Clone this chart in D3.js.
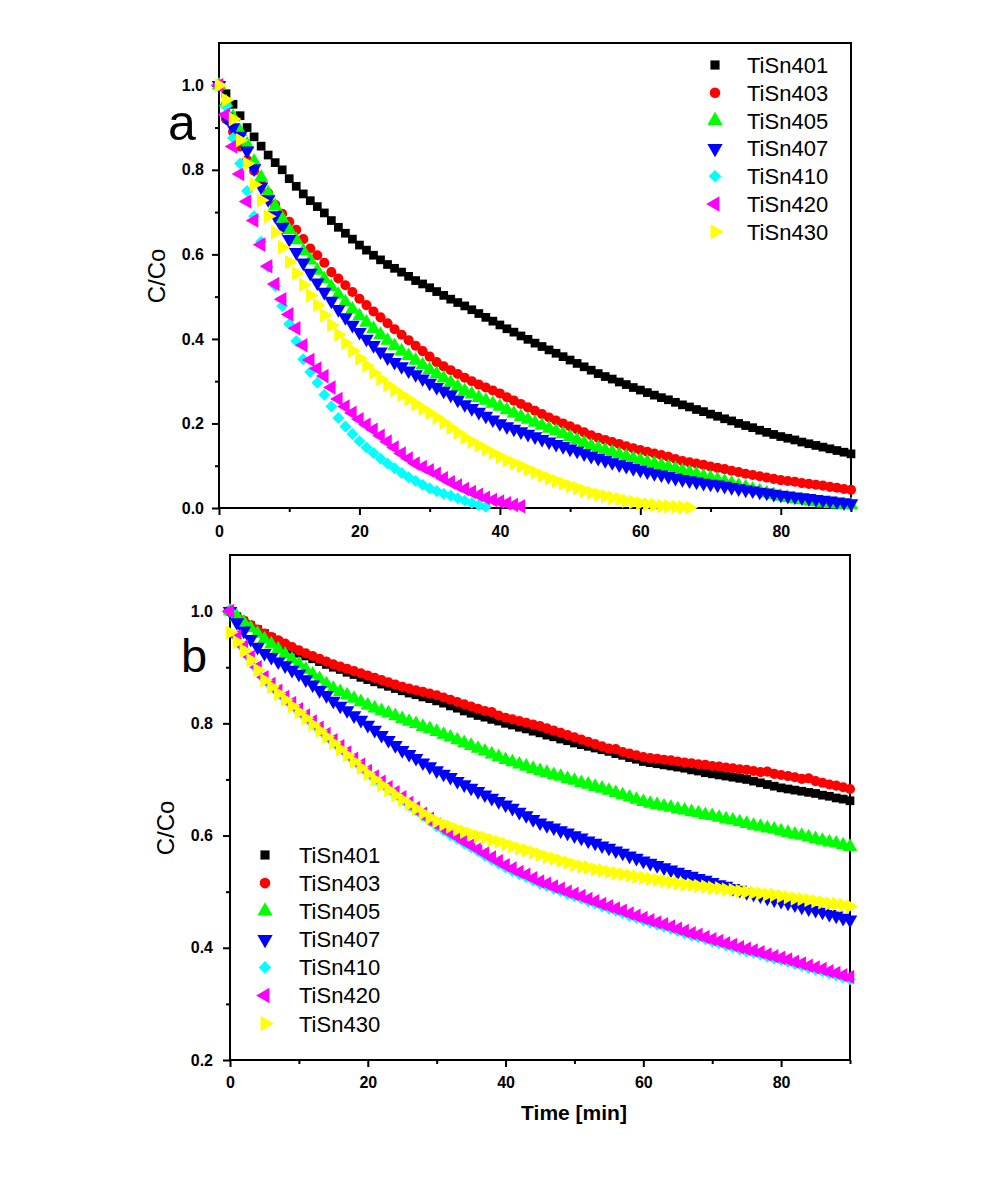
<!DOCTYPE html>
<html><head><meta charset="utf-8">
<script src="https://cdn.jsdelivr.net/npm/d3@7"></script>
<style>body{margin:0;background:#fff}svg{display:block}</style>
</head><body><svg id="c" width="1000" height="1200"></svg>
<script>
// ---------- data ----------
const seriesNames = ["TiSn401","TiSn403","TiSn405","TiSn407","TiSn410","TiSn420","TiSn430"];
const seriesColors = ["#000000","#ff0000","#00ff00","#0000ff","#00ffff","#ff00ff","#ffff00"];
const minutes = d3.range(0, 91); // sampling times, 1 min apart
const xTicks = [0,20,40,60,80];
const xMinorTicks = [10,30,50,70,90];
const yTicksA = [0,0.2,0.4,0.6,0.8,1.0];
const yMinorA = [0.1,0.3,0.5,0.7,0.9];
const yTicksB = [0.2,0.4,0.6,0.8,1.0];
const yMinorB = [0.3,0.5,0.7,0.9];

// panel a
const a401 = [1.0,0.98,0.955,0.928,0.9,0.878,0.856,0.835,0.817,0.8,0.779,0.761,0.743,0.727,0.713,0.698,0.68,0.664,0.65,0.636,0.622,0.61,0.598,0.587,0.576,0.567,0.558,0.548,0.538,0.53,0.521,0.512,0.503,0.494,0.486,0.478,0.469,0.46,0.451,0.442,0.433,0.424,0.416,0.407,0.399,0.39,0.382,0.374,0.366,0.358,0.35,0.342,0.334,0.326,0.318,0.311,0.305,0.298,0.292,0.285,0.279,0.273,0.267,0.261,0.256,0.25,0.244,0.239,0.233,0.228,0.222,0.217,0.211,0.206,0.2,0.195,0.19,0.184,0.179,0.174,0.169,0.165,0.161,0.156,0.152,0.148,0.144,0.14,0.136,0.132,0.128];
const a403 = [1.0,0.92,0.89,0.855,0.823,0.798,0.772,0.745,0.717,0.696,0.677,0.658,0.636,0.614,0.598,0.58,0.558,0.543,0.527,0.511,0.495,0.48,0.465,0.451,0.437,0.423,0.41,0.397,0.384,0.371,0.358,0.345,0.335,0.326,0.317,0.308,0.3,0.292,0.285,0.278,0.271,0.262,0.254,0.246,0.238,0.23,0.222,0.214,0.207,0.2,0.193,0.186,0.179,0.172,0.166,0.161,0.156,0.151,0.146,0.141,0.137,0.133,0.129,0.125,0.121,0.116,0.111,0.108,0.105,0.102,0.098,0.095,0.092,0.088,0.085,0.081,0.078,0.075,0.072,0.069,0.066,0.064,0.062,0.059,0.057,0.055,0.053,0.05,0.048,0.045,0.043];
const a405 = [1.0,0.96,0.925,0.89,0.86,0.82,0.782,0.745,0.714,0.685,0.658,0.634,0.608,0.586,0.562,0.542,0.523,0.505,0.487,0.47,0.454,0.439,0.424,0.41,0.396,0.383,0.371,0.36,0.349,0.338,0.327,0.317,0.307,0.297,0.287,0.277,0.269,0.261,0.254,0.247,0.24,0.232,0.224,0.216,0.209,0.202,0.195,0.188,0.182,0.175,0.168,0.161,0.154,0.147,0.142,0.137,0.132,0.127,0.122,0.117,0.113,0.109,0.105,0.101,0.097,0.093,0.088,0.084,0.08,0.075,0.071,0.067,0.062,0.058,0.053,0.049,0.044,0.04,0.035,0.031,0.027,0.024,0.021,0.019,0.016,0.014,0.012,0.01,0.009,0.008,0.007];
const a407 = [1.0,0.925,0.9,0.88,0.845,0.803,0.76,0.73,0.692,0.665,0.636,0.605,0.58,0.556,0.533,0.511,0.49,0.47,0.451,0.433,0.416,0.4,0.385,0.37,0.356,0.345,0.335,0.325,0.316,0.306,0.296,0.286,0.277,0.268,0.256,0.245,0.236,0.227,0.218,0.209,0.2,0.193,0.187,0.181,0.175,0.169,0.163,0.157,0.151,0.146,0.14,0.135,0.129,0.123,0.118,0.113,0.108,0.103,0.099,0.094,0.09,0.086,0.082,0.079,0.075,0.071,0.068,0.065,0.062,0.059,0.057,0.055,0.052,0.049,0.046,0.043,0.041,0.038,0.036,0.033,0.031,0.029,0.027,0.025,0.023,0.021,0.019,0.017,0.015,0.013,0.011];
const a410 = [1.0,0.95,0.875,0.815,0.75,0.69,0.63,0.57,0.525,0.478,0.435,0.395,0.352,0.322,0.296,0.268,0.24,0.213,0.193,0.175,0.158,0.143,0.13,0.117,0.105,0.094,0.083,0.073,0.064,0.055,0.047,0.04,0.034,0.029,0.023,0.017,0.012,0.007,0.003];
const a420 = [1.0,0.93,0.855,0.79,0.725,0.68,0.623,0.572,0.53,0.494,0.458,0.425,0.385,0.35,0.33,0.312,0.285,0.258,0.24,0.225,0.21,0.197,0.185,0.171,0.157,0.143,0.129,0.117,0.105,0.097,0.089,0.081,0.07,0.061,0.053,0.045,0.038,0.031,0.024,0.019,0.015,0.011,0.007,0.004];
const a430 = [1.0,0.965,0.92,0.87,0.815,0.765,0.728,0.69,0.652,0.617,0.582,0.555,0.528,0.503,0.48,0.456,0.433,0.41,0.39,0.372,0.354,0.337,0.32,0.305,0.291,0.279,0.268,0.257,0.246,0.235,0.225,0.214,0.202,0.19,0.178,0.166,0.157,0.148,0.139,0.13,0.121,0.113,0.106,0.099,0.091,0.084,0.077,0.07,0.064,0.058,0.052,0.047,0.041,0.036,0.032,0.028,0.024,0.021,0.017,0.014,0.011,0.009,0.007,0.005,0.004,0.003,0.002,0.001];

// panel b
const b401 = [1.0,0.99,0.982,0.974,0.967,0.96,0.953,0.946,0.939,0.932,0.925,0.92,0.915,0.91,0.905,0.9,0.896,0.891,0.887,0.882,0.878,0.874,0.87,0.866,0.862,0.858,0.854,0.851,0.847,0.844,0.84,0.836,0.831,0.827,0.822,0.818,0.814,0.811,0.807,0.804,0.8,0.797,0.793,0.79,0.786,0.783,0.779,0.776,0.772,0.769,0.765,0.762,0.759,0.756,0.753,0.75,0.746,0.743,0.739,0.736,0.732,0.73,0.728,0.726,0.724,0.722,0.72,0.717,0.715,0.712,0.71,0.708,0.706,0.704,0.702,0.7,0.697,0.694,0.691,0.688,0.685,0.683,0.681,0.679,0.677,0.675,0.672,0.67,0.667,0.665,0.662];
const b403 = [1.0,0.99,0.983,0.975,0.967,0.96,0.954,0.948,0.942,0.936,0.93,0.925,0.92,0.915,0.91,0.905,0.901,0.897,0.893,0.889,0.885,0.881,0.877,0.873,0.869,0.865,0.862,0.859,0.856,0.853,0.85,0.846,0.842,0.838,0.834,0.83,0.826,0.822,0.82,0.814,0.81,0.807,0.804,0.801,0.798,0.795,0.791,0.787,0.783,0.779,0.775,0.771,0.767,0.763,0.759,0.755,0.754,0.749,0.746,0.743,0.74,0.738,0.737,0.735,0.734,0.732,0.73,0.729,0.727,0.726,0.724,0.723,0.721,0.72,0.718,0.717,0.715,0.713,0.714,0.71,0.708,0.706,0.704,0.701,0.702,0.697,0.694,0.691,0.689,0.686,0.683];
const b405 = [1.0,0.99,0.98,0.97,0.96,0.95,0.941,0.932,0.923,0.914,0.905,0.896,0.887,0.879,0.87,0.862,0.856,0.85,0.844,0.838,0.832,0.827,0.822,0.818,0.813,0.808,0.803,0.799,0.794,0.79,0.785,0.78,0.775,0.77,0.765,0.76,0.755,0.75,0.745,0.74,0.735,0.731,0.727,0.723,0.719,0.715,0.712,0.708,0.705,0.701,0.698,0.694,0.691,0.687,0.684,0.68,0.676,0.672,0.668,0.664,0.66,0.657,0.655,0.652,0.65,0.647,0.645,0.642,0.64,0.637,0.635,0.632,0.629,0.627,0.624,0.621,0.618,0.616,0.613,0.611,0.608,0.605,0.602,0.6,0.597,0.594,0.591,0.588,0.586,0.583,0.58];
const b407 = [1.0,0.98,0.965,0.95,0.936,0.925,0.918,0.91,0.903,0.895,0.888,0.878,0.869,0.859,0.85,0.84,0.831,0.823,0.814,0.806,0.797,0.788,0.779,0.77,0.761,0.752,0.745,0.738,0.73,0.723,0.716,0.71,0.704,0.697,0.691,0.685,0.679,0.673,0.667,0.661,0.655,0.649,0.642,0.636,0.629,0.623,0.618,0.614,0.609,0.605,0.6,0.596,0.591,0.587,0.582,0.578,0.573,0.569,0.564,0.56,0.555,0.551,0.547,0.543,0.539,0.535,0.531,0.528,0.524,0.521,0.517,0.513,0.51,0.506,0.503,0.499,0.496,0.493,0.489,0.486,0.483,0.48,0.477,0.473,0.47,0.467,0.464,0.46,0.457,0.453,0.45];
const b410 = [1.0,0.952,0.933,0.914,0.896,0.878,0.866,0.854,0.843,0.832,0.821,0.81,0.799,0.788,0.777,0.766,0.755,0.744,0.733,0.722,0.711,0.701,0.692,0.682,0.673,0.664,0.654,0.645,0.635,0.626,0.616,0.609,0.601,0.594,0.586,0.579,0.572,0.564,0.557,0.55,0.543,0.537,0.531,0.526,0.52,0.514,0.51,0.505,0.501,0.496,0.492,0.488,0.483,0.479,0.474,0.47,0.466,0.462,0.457,0.453,0.449,0.445,0.441,0.438,0.434,0.43,0.426,0.422,0.419,0.415,0.411,0.408,0.404,0.401,0.397,0.394,0.391,0.388,0.384,0.381,0.378,0.375,0.371,0.368,0.364,0.361,0.358,0.354,0.351,0.347,0.344];
const b420 = [1.0,0.955,0.937,0.918,0.9,0.882,0.87,0.858,0.847,0.836,0.825,0.814,0.803,0.792,0.781,0.77,0.759,0.748,0.737,0.726,0.715,0.705,0.696,0.686,0.677,0.668,0.658,0.649,0.639,0.63,0.62,0.613,0.605,0.598,0.59,0.583,0.576,0.568,0.561,0.554,0.547,0.541,0.535,0.53,0.524,0.518,0.514,0.509,0.505,0.5,0.496,0.492,0.487,0.483,0.478,0.474,0.47,0.466,0.461,0.457,0.453,0.449,0.445,0.442,0.438,0.434,0.43,0.426,0.423,0.419,0.415,0.412,0.408,0.405,0.401,0.398,0.395,0.392,0.388,0.385,0.382,0.379,0.375,0.372,0.368,0.365,0.362,0.358,0.355,0.351,0.348];
const b430 = [0.962,0.945,0.93,0.913,0.895,0.877,0.865,0.853,0.842,0.831,0.82,0.809,0.798,0.787,0.776,0.765,0.754,0.743,0.732,0.721,0.71,0.7,0.69,0.681,0.672,0.664,0.656,0.648,0.64,0.632,0.625,0.62,0.616,0.611,0.607,0.603,0.599,0.596,0.592,0.589,0.585,0.581,0.577,0.574,0.57,0.566,0.562,0.559,0.555,0.552,0.548,0.545,0.543,0.54,0.538,0.535,0.533,0.531,0.529,0.527,0.525,0.523,0.521,0.519,0.517,0.515,0.513,0.512,0.51,0.509,0.507,0.506,0.504,0.503,0.501,0.5,0.498,0.497,0.495,0.494,0.492,0.49,0.488,0.487,0.485,0.483,0.481,0.479,0.478,0.476,0.474];

// ---------- drawing ----------
const svg = d3.select("#c");
const FONT = "'Liberation Sans', Arial, Helvetica, sans-serif";

const symbols = [
  {type: d3.symbolSquare, size: 76, rot: 0},
  {type: d3.symbolCircle, size: 80, rot: 0},
  {type: d3.symbolTriangle, size: 92, rot: 0},
  {type: d3.symbolTriangle, size: 92, rot: 180},
  {type: d3.symbolSquare, size: 72, rot: 45},
  {type: d3.symbolTriangle, size: 92, rot: -90},
  {type: d3.symbolTriangle, size: 92, rot: 90}
];

function drawPanel(p, seriesData, yTicks, yMinor, legend) {
  const x = d3.scaleLinear().domain([0, 90]).range([p.left, p.right]);
  const y = d3.scaleLinear().domain(p.yDomain).range([p.bottom, p.top]);
  const g = svg.append("g");

  // frame
  g.append("rect").attr("x", p.left).attr("y", p.top)
    .attr("width", p.right - p.left).attr("height", p.bottom - p.top)
    .attr("fill", "none").attr("stroke", "#000").attr("stroke-width", 2);

  const styleAxis = sel => {
    sel.select(".domain").remove();
    sel.selectAll(".tick line").attr("stroke", "#000").attr("stroke-width", 2);
    sel.selectAll("text").attr("font-family", FONT).attr("font-weight", "bold")
      .attr("font-size", 16).attr("fill", "#000");
  };

  g.append("g").attr("transform", `translate(0,${p.bottom})`)
    .call(d3.axisBottom(x).tickValues(xTicks).tickSize(7).tickPadding(p.xPad).tickFormat(d3.format("d")))
    .call(styleAxis);
  g.append("g").attr("transform", `translate(0,${p.bottom})`)
    .call(d3.axisBottom(x).tickValues(xMinorTicks).tickSize(4).tickFormat(""))
    .call(styleAxis);
  g.append("g").attr("transform", `translate(${p.left},0)`)
    .call(d3.axisLeft(y).tickValues(yTicks).tickSize(7).tickPadding(p.yPad).tickFormat(d3.format(".1f")))
    .call(styleAxis);
  g.append("g").attr("transform", `translate(${p.left},0)`)
    .call(d3.axisLeft(y).tickValues(yMinor).tickSize(4).tickFormat(""))
    .call(styleAxis);

  // series
  seriesData.forEach((vals, i) => {
    const s = symbols[i];
    const path = d3.symbol().type(s.type).size(s.size)();
    g.append("g").selectAll("path").data(vals).join("path")
      .attr("d", path)
      .attr("transform", (v, j) => `translate(${x(minutes[j])},${y(v)}) rotate(${s.rot})`)
      .attr("fill", seriesColors[i]);
  });

  // legend
  const lg = g.append("g");
  seriesNames.forEach((name, i) => {
    const s = symbols[i];
    const ly = legend.y0 + i * legend.dy;
    lg.append("path").attr("d", d3.symbol().type(s.type).size(s.size * 1.1)())
      .attr("transform", `translate(${legend.mx},${ly}) rotate(${s.rot})`)
      .attr("fill", seriesColors[i]);
    lg.append("text").attr("x", legend.tx).attr("y", ly).attr("dy", "0.36em")
      .attr("font-family", FONT).attr("font-size", 22).attr("fill", "#000").text(name);
  });

  // y title
  g.append("text").attr("transform", `translate(${p.ytX},${p.ytY}) rotate(-90)`)
    .attr("text-anchor", "middle").attr("font-family", FONT).attr("font-size", 24)
    .text("C/Co");
  // panel letter
  g.append("text").attr("x", p.letterX).attr("y", p.letterY)
    .attr("font-family", FONT).attr("font-size", p.letterSize).text(p.letter);
  return {x, y};
}

drawPanel(
  {left: 219, right: 851, top: 43, bottom: 508, yDomain: [0, 1.1], xPad: 11, yPad: 8,
   ytX: 165, ytY: 276, letter: "a", letterX: 168, letterY: 140, letterSize: 50},
  [a401, a403, a405, a407, a410, a420, a430], yTicksA, yMinorA,
  {mx: 715, tx: 747, y0: 65, dy: 27.8}
);
drawPanel(
  {left: 230, right: 850, top: 555, bottom: 1060, yDomain: [0.2, 1.1], xPad: 10, yPad: 10,
   ytX: 174, ytY: 828, letter: "b", letterX: 181, letterY: 672, letterSize: 47},
  [b401, b403, b405, b407, b410, b420, b430], yTicksB, yMinorB,
  {mx: 265, tx: 299, y0: 855, dy: 28.1}
);

svg.append("text").attr("x", 574).attr("y", 1120).attr("text-anchor", "middle")
  .attr("font-family", FONT).attr("font-weight", "bold").attr("font-size", 21)
  .text("Time [min]");
</script>
</body></html>
